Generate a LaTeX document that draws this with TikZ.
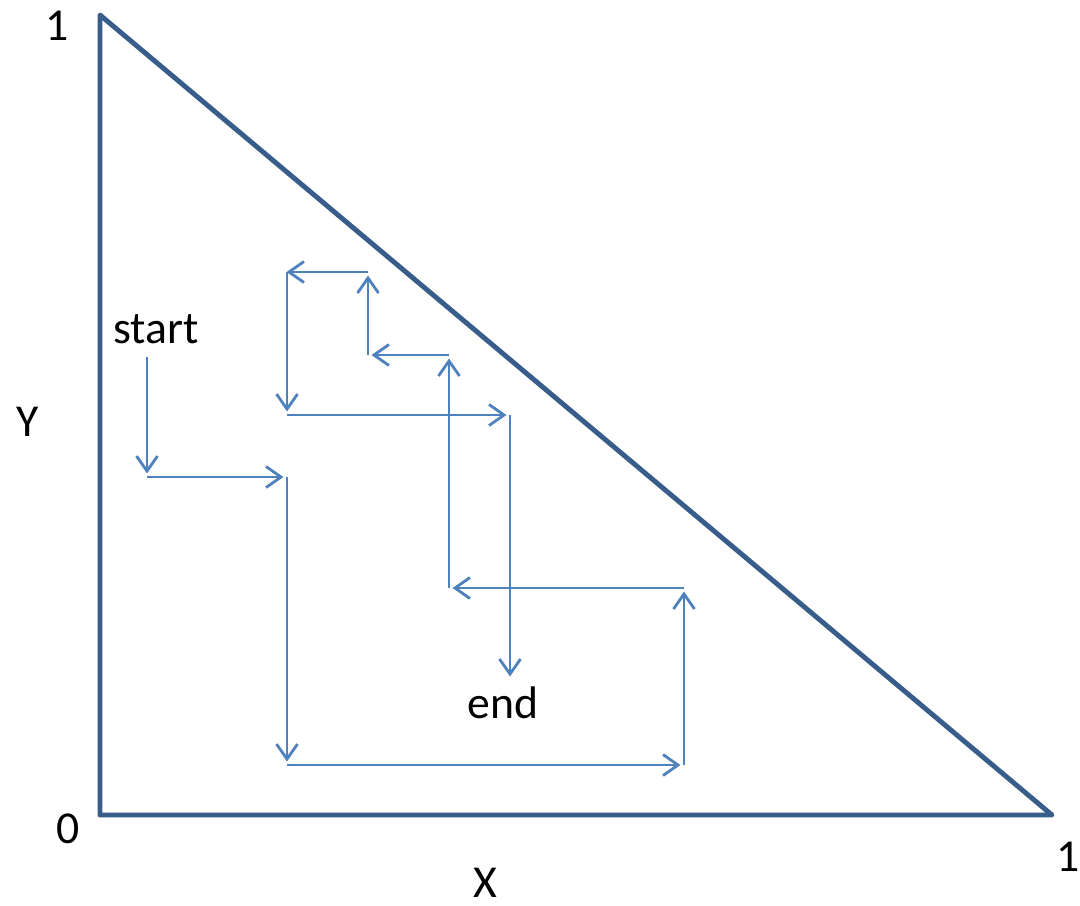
\documentclass[tikz,border=0pt]{standalone}
\usepackage{fontspec}
\setmainfont{Carlito}
\usepackage{tikz}
\usetikzlibrary{arrows.meta}
\definecolor{TriBlue}{HTML}{385D8A}
\definecolor{StepBlue}{HTML}{4F81BD}
\tikzset{
    % Triangle edges
    triedge/.style={
        draw=TriBlue,
        line width=1.4pt,
        line join=round
    },
    % Axis and corner labels
    axislabel/.style={
        anchor=base,
        inner sep=0pt,
        font=\fontsize{13}{15}\selectfont
    },
    % Text at both ends of the walk
    walklabel/.style={
        axislabel
    },
    % One step of the walk
    steparrow/.style={
        -{Straight Barb[length=1.5mm,width=2.1mm,line width=0.8pt]},
        line width=0.8pt,
        draw=StepBlue,
        shorten >=1pt
    }
}
\begin{document}
\begin{tikzpicture}[x=0.01cm, y=-0.01cm]
    \useasboundingbox (0,0) rectangle (1080,905);

    % triangle
    \coordinate (top) at (100,15);
    \coordinate (origin) at (100,815);
    \coordinate (right) at (1052,815);
    \draw[triedge] (top) -- (origin) -- (right) -- cycle;

    % labels
    \node[axislabel] (ytop) at (57,40) {1};
    \node[axislabel] (ylab) at (28,436) {Y};
    \node[axislabel] (zero) at (68,843) {0};
    \node[axislabel] (xlab) at (485,897) {X};
    \node[axislabel] (xright) at (1068,871) {1};
    \node[walklabel] (start) at (156,343) {start};
    \node[walklabel] (end) at (503,718) {end};

    % corners of the walk
    \coordinate (p0) at (147,357);
    \coordinate (p1) at (147,477);
    \coordinate (p2) at (287,477);
    \coordinate (p3) at (287,765);
    \coordinate (p4) at (684,765);
    \coordinate (p5) at (684,588);
    \coordinate (p6) at (449,588);
    \coordinate (p7) at (449,355);
    \coordinate (p8) at (368,355);
    \coordinate (p9) at (368,272);
    \coordinate (p10) at (283,272);
    \coordinate (p11) at (287,415);
    \coordinate (p12) at (510,415);
    \coordinate (p13) at (510,680);

    \draw[steparrow] (p0) -- (p1);
    \draw[steparrow] (p1) -- (p2);
    \draw[steparrow] (p2) -- (p3);
    \draw[steparrow] (p3) -- (p4);
    \draw[steparrow] (p4) -- (p5);
    \draw[steparrow] (p5) -- (p6);
    \draw[steparrow] (p6) -- (p7);
    \draw[steparrow] (p7) -- (p8);
    \draw[steparrow] (p8) -- (p9);
    \draw[steparrow] (p9) -- (p10);
    \draw[steparrow] (p10 -| p11) -- (p11);
    \draw[steparrow] (p11) -- (p12);
    \draw[steparrow] (p12) -- (p13);
\end{tikzpicture}
\end{document}
